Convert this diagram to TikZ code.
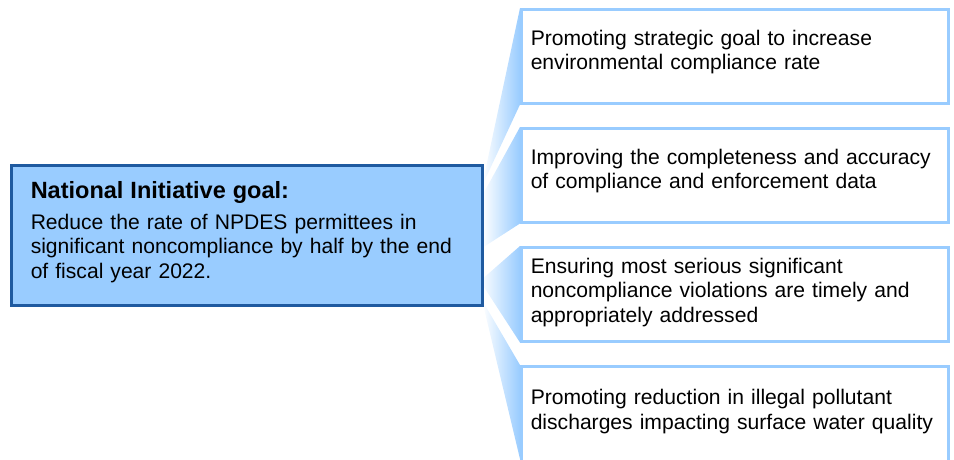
\documentclass[tikz,border=0pt]{standalone}
\usepackage{fontspec}
\setmainfont{Liberation Sans}
\definecolor{paleblue}{RGB}{153,204,255}
\definecolor{edgeblue}{RGB}{31,90,160}

\begin{document}
\begin{tikzpicture}[x=1pt,y=-1pt]
\tikzstyle{every node}=[font=\fontsize{21.1}{24.5}\selectfont]
\tikzstyle{aim}=[draw=paleblue,line width=2.5pt,fill=white,anchor=north west,minimum width=427pt,minimum height=94pt,text width=408pt,inner xsep=9pt,text depth=37pt,align=left]
\tikzstyle{wedge}=[left color=white,right color=paleblue]
\useasboundingbox (0,0) rectangle (954,459);

\node[aim] (a1) at (520,8) {Promoting strategic goal to increase\\environmental compliance rate};
\node[aim] (a2) at (520,127) {Improving the completeness and accuracy\\of compliance and enforcement data};
\node[aim,text depth=57.5pt] (a3) at (520,246) {Ensuring most serious significant\\noncompliance violations are timely and\\appropriately addressed};
\node[aim,minimum height=96pt,text depth=34pt] (a4) at (520,365) {Promoting reduction in illegal pollutant\\discharges impacting surface water quality};

\coordinate (p1) at (482,186);
\coordinate (p2) at (482,196);
\coordinate (q2) at (482,248);
\coordinate (p3) at (480,281);
\coordinate (p4) at (482,300);
\shade[wedge] (p1) -- (a1.north west) -- (a1.south west) -- cycle;
\shade[wedge] (p2) -- (a2.north west) -- (a2.south west) -- (q2) -- cycle;
\shade[wedge] (p3) -- (a3.north west) -- (a3.south west) -- cycle;
\shade[wedge] (p4) -- (a4.north west) -- (520,459) -- cycle;

\node[draw=edgeblue,line width=2.5pt,fill=paleblue,anchor=north west,minimum width=471pt,minimum height=140pt,text width=432pt,inner xsep=19pt,text depth=90.5pt,align=left] (goal) at (10,164) {{\bfseries\fontsize{23.5}{24.5}\selectfont National Initiative goal:}\\[6pt]Reduce the rate of NPDES permittees in\\significant noncompliance by half by the end\\of fiscal year 2022.};
\end{tikzpicture}
\end{document}
